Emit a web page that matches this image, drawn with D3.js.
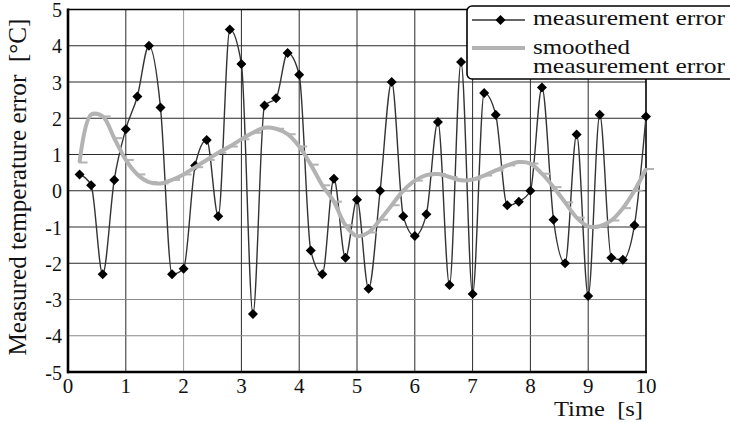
<!DOCTYPE html>
<html><head><meta charset="utf-8">
<script src="https://cdn.jsdelivr.net/npm/d3@7"></script>
<style>html,body{margin:0;padding:0;background:#fff;}svg{display:block;}
svg text{font-family:"Liberation Serif","Times New Roman",Times,serif;fill:#111;}</style>
</head><body>
<svg id="chart" width="730" height="423"></svg>
<script>
const times = d3.range(1, 51).map(i => +(i * 0.2).toFixed(1));
const measurementError = [0.45, 0.15, -2.3, 0.3, 1.7, 2.6, 4.0, 2.3, -2.3, -2.15,
  0.7, 1.4, -0.7, 4.45, 3.5, -3.4, 2.35, 2.55, 3.8, 3.2,
  -1.65, -2.3, 0.33, -1.85, -0.25, -2.7, 0.0, 3.0, -0.7, -1.25,
  -0.65, 1.9, -2.6, 3.55, -2.85, 2.7, 2.1, -0.4, -0.3, 0.0,
  2.85, -0.8, -2.0, 1.55, -2.9, 2.1, -1.85, -1.9, -0.95, 2.05];
const smoothedError = [0.78, 2.1, 2.05, 1.45, 0.85, 0.45, 0.24, 0.2, 0.3, 0.45,
  0.65, 0.85, 1.05, 1.22, 1.42, 1.6, 1.74, 1.71, 1.56, 1.22,
  0.72, 0.15, -0.3, -0.95, -1.25, -1.15, -0.8, -0.4, 0.0, 0.28,
  0.43, 0.46, 0.38, 0.29, 0.31, 0.42, 0.56, 0.7, 0.79, 0.75,
  0.47, 0.1, -0.32, -0.74, -0.98, -0.98, -0.82, -0.48, 0.0, 0.6];
const xTicks = [0,1,2,3,4,5,6,7,8,9,10];
const yTicks = [5,4,3,2,1,0,-1,-2,-3,-4,-5];
const legendLabels = ["measurement error", "smoothed", "measurement error"];

const svg = d3.select("#chart");
const x = d3.scaleLinear().domain([0, 10]).range([68, 646]);
const y = d3.scaleLinear().domain([-5, 5]).range([372, 9.5]);

// grid
const lightX = new Set([2]), lightY = new Set([-3, -4]);
svg.append("g").selectAll("line").data(xTicks.filter(d => d > 0 && d < 10)).join("line")
  .attr("x1", d => x(d)).attr("x2", d => x(d)).attr("y1", y(5)).attr("y2", y(-5))
  .attr("stroke", d => lightX.has(d) ? "#9a9a9a" : "#2a2a2a").attr("stroke-width", 1);
svg.append("g").selectAll("line").data(yTicks.filter(d => d > -5 && d < 5)).join("line")
  .attr("x1", x(0)).attr("x2", x(10)).attr("y1", d => y(d)).attr("y2", d => y(d))
  .attr("stroke", d => lightY.has(d) ? "#8a8a8a" : "#2a2a2a").attr("stroke-width", 1);

// frame
svg.append("line").attr("x1", x(0)).attr("x2", 467).attr("y1", y(5)).attr("y2", y(5)).attr("stroke", "#000").attr("stroke-width", 1.6);
svg.append("line").attr("x1", x(10)).attr("x2", x(10)).attr("y1", 79).attr("y2", y(-5)).attr("stroke", "#000").attr("stroke-width", 1.6);
svg.append("line").attr("x1", x(0)).attr("x2", x(0)).attr("y1", y(5) - 1).attr("y2", y(-5) + 1.2).attr("stroke", "#000").attr("stroke-width", 2.6);
svg.append("line").attr("x1", x(0) - 1).attr("x2", x(10) + 1).attr("y1", y(-5)).attr("y2", y(-5)).attr("stroke", "#000").attr("stroke-width", 2.6);

// tick labels
svg.append("g").selectAll("text").data(yTicks).join("text")
  .attr("x", 62).attr("y", d => y(d) + 7.5).attr("text-anchor", "end")
  .attr("font-size", 20)
  .text(d => d);
svg.append("g").selectAll("text").data(xTicks).join("text")
  .attr("x", d => x(d)).attr("y", 393).attr("text-anchor", "middle")
  .attr("font-size", 21)
  .text(d => d);

// axis titles
svg.append("text").attr("x", 554).attr("y", 416)
  .attr("font-size", 22)
  .attr("textLength", 89).attr("lengthAdjust", "spacingAndGlyphs")
  .style("white-space", "pre").text("Time  [s]");
svg.append("text").attr("transform", "translate(26,187) rotate(-90)")
  .attr("text-anchor", "middle")
  .attr("font-size", 25)
  .attr("textLength", 337).attr("lengthAdjust", "spacingAndGlyphs")
  .style("white-space", "pre").text("Measured temperature error  [°C]");

// data
const pts = times.map((t, i) => ({t, v: measurementError[i]}));
const spts = times.map((t, i) => ({t, v: smoothedError[i]}));
const line = d3.line().x(d => x(d.t)).y(d => y(d.v)).curve(d3.curveMonotoneX);
const sline = d3.line().x(d => x(d.t)).y(d => y(d.v)).curve(d3.curveCatmullRom.alpha(0.5));

svg.append("path").datum(pts).attr("d", line).attr("fill", "none")
  .attr("stroke", "#333").attr("stroke-width", 1.4);
const diamond = (cx, cy, r) => `M${cx},${cy - r}L${cx + r},${cy}L${cx},${cy + r}L${cx - r},${cy}Z`;
svg.append("g").selectAll("path").data(pts).join("path")
  .attr("d", d => diamond(x(d.t), y(d.v), 5)).attr("fill", "#000");

svg.append("path").datum(spts).attr("d", sline).attr("fill", "none")
  .attr("stroke", "#b3b3b3").attr("stroke-width", 4);
svg.append("g").selectAll("line").data(spts).join("line")
  .attr("x1", d => x(d.t) - 1).attr("x2", d => x(d.t) + 8)
  .attr("y1", d => y(d.v)).attr("y2", d => y(d.v))
  .attr("stroke", "#b3b3b3").attr("stroke-width", 2);

// legend
const lg = svg.append("g");
lg.append("rect").attr("x", 467).attr("y", 6).attr("width", 300).attr("height", 73).attr("rx", 5)
  .attr("fill", "#fff").attr("stroke", "#000").attr("stroke-width", 1.6);
lg.append("line").attr("x1", 472).attr("x2", 525).attr("y1", 20).attr("y2", 20).attr("stroke", "#333").attr("stroke-width", 1.4);
lg.append("path").attr("d", diamond(500.5, 20, 5)).attr("fill", "#000");
lg.append("line").attr("x1", 472).attr("x2", 525).attr("y1", 48).attr("y2", 48).attr("stroke", "#b3b3b3").attr("stroke-width", 4);
const lgY = [25, 54, 73], lgW = [192, 97, 192];
lg.selectAll("text").data(legendLabels).join("text")
  .attr("x", 533).attr("y", (d, i) => lgY[i])
  .attr("font-size", 21)
  .attr("textLength", (d, i) => lgW[i]).attr("lengthAdjust", "spacingAndGlyphs")
  .text(d => d);
</script>
</body></html>
